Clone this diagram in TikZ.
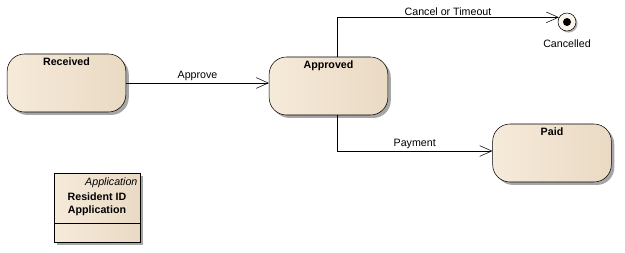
\documentclass[tikz,border=0pt]{standalone}
\usepackage{fontspec}
\setmainfont{Liberation Sans}
\usetikzlibrary{arrows.meta,shadows}

\begin{document}
\begin{tikzpicture}[x=0.75pt,y=-0.75pt,>={Straight Barb[length=9pt,width=8pt]},
    font=\fontsize{8}{9.6}\selectfont,
    title/.style={font=\fontsize{8}{9.6}\selectfont\bfseries,anchor=north,inner sep=3pt},
    state/.style={draw,thin,rounded corners=13pt,minimum width=89pt,minimum height=43.5pt,
      left color=stateL,middle color=stateM,right color=stateR,
      drop shadow={shadow xshift=2.2pt,shadow yshift=-2.2pt,fill=black!35,opacity=1}},
    trans/.style={draw,thin,->},
    guard/.style={above,inner sep=1.2pt}]
    \definecolor{stateL}{HTML}{F6EADA}
    \definecolor{stateM}{HTML}{FCF5EC}
    \definecolor{stateR}{HTML}{EADAC4}
    \useasboundingbox (0,0) rectangle (625,253);
    % estados
    \node[state,label={[title]north:Received}] (received) at (66.5,83) {};
    \node[state,label={[title]north:Approved}] (approved) at (328.5,86) {};
    \node[state,label={[title]north:Paid}] (paid) at (552,153) {};
    % estado final
    \node[draw,thin,circle,fill=stateM,minimum size=13.5pt,inner sep=0pt,
      drop shadow={shadow xshift=1.2pt,shadow yshift=-1.2pt,fill=black!30,opacity=1},
      label={[label distance=3pt]below:Cancelled}] (cancelled) at (567,22) {};
    \fill[black] (cancelled.center) circle (3pt);
    % transiciones
    \draw[trans] (received.east |- 0,83) -- node[guard] (lblApprove) {Approve} (approved.west |- 0,83);
    \draw[trans] ([xshift=6.4pt]approved.north) |- node[guard,pos=0.75] (lblCancel) {Cancel or Timeout} (cancelled.150);
    \draw[trans] ([xshift=6.4pt]approved.south) |- node[guard,pos=0.75] (lblPayment) {Payment} (paid.west |- 0,151);
    % objeto Application
    \node[draw,thin,minimum width=64.5pt,minimum height=51.75pt,anchor=north west,
      left color=stateL,middle color=stateM,right color=stateR,
      drop shadow={shadow xshift=2.2pt,shadow yshift=-2.2pt,fill=black!35,opacity=1}] (appobj) at (54,173) {};
    \node[anchor=east,inner sep=1pt,font=\fontsize{8}{9.6}\selectfont\itshape] (appType) at (139,183) {Application};
    \node[align=center,font=\fontsize{8}{9.6}\selectfont\bfseries] (appName) at (97,204.5) {Resident ID\\Application};
    \draw[thin] (appobj.west |- 0,223) -- (appobj.east |- 0,223);
\end{tikzpicture}
\end{document}
